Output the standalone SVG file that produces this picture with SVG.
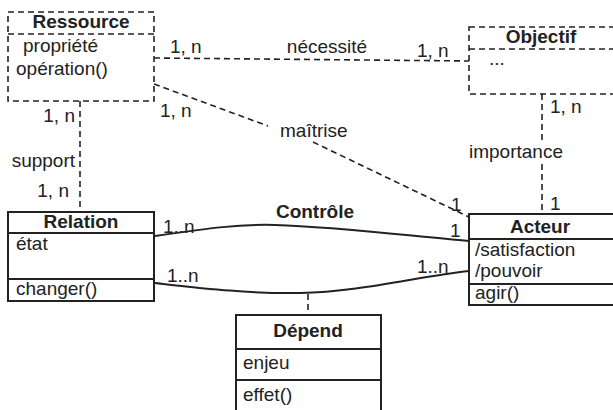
<svg xmlns="http://www.w3.org/2000/svg" width="613" height="410" viewBox="0 0 613 410">
<style>
  text { font-family: "Liberation Sans", Arial, sans-serif; font-size: 19px; fill: #222; }
  .b { font-weight: bold; text-anchor: middle; }
  .box { fill: #fff; stroke: #222; stroke-width: 2; }
  .dbox { fill: #fff; stroke: #222; stroke-width: 1.6; stroke-dasharray: 6 4; }
  .sep { stroke: #222; stroke-width: 2; }
  .dsep { stroke: #222; stroke-width: 1.6; stroke-dasharray: 6 4; }
  .dash { fill: none; stroke: #222; stroke-width: 1.6; stroke-dasharray: 6 4; }
  .solid { fill: none; stroke: #222; stroke-width: 2; }
</style>
<rect width="613" height="410" fill="#fff"/>
<g id="connectors">
  <path class="dash" d="M154,58 L470,61"/>
  <path class="dash" d="M154,84 L268,126"/>
  <path class="dash" d="M313,142 L469,217"/>
  <path class="dash" d="M80,101 L80,212"/>
  <path class="dash" d="M542,94 L542,144"/>
  <path class="dash" d="M542,164 L542,214"/>
  <path class="solid" d="M155,236 C210,228 240,224 275,225 C340,227 410,236 469,241"/>
  <path class="solid" d="M155,283 C200,288 250,294 300,293 C360,292 420,276 469,271"/>
  <path class="dash" d="M308,294 L308,315"/>
  <text x="170" y="53">1, n</text>
  <text x="327" y="53" text-anchor="middle">nécessité</text>
  <text x="417" y="57">1, n</text>
  <text x="160" y="117">1, n</text>
  <text x="280" y="137">maîtrise</text>
  <text x="451" y="211">1</text>
  <text x="75" y="122" text-anchor="end">1, n</text>
  <text x="75" y="167" text-anchor="end">support</text>
  <text x="69" y="197" text-anchor="end">1, n</text>
  <text x="550" y="113">1, n</text>
  <text x="516" y="158" text-anchor="middle">importance</text>
  <text x="550" y="210">1</text>
  <text class="b" x="315" y="218">Contrôle</text>
  <text x="163" y="233">1..n</text>
  <text x="450" y="237">1</text>
  <text x="167" y="282">1..n</text>
  <text x="417" y="273">1..n</text>
</g>
<g id="ressource">
  <rect class="dbox" x="8" y="12" width="146" height="89"/>
  <line class="dsep" x1="8" y1="34" x2="154" y2="34"/>
  <text class="b" x="81" y="28">Ressource</text>
  <text x="23" y="52">propriété</text>
  <text x="16" y="75">opération()</text>
</g>
<g id="objectif">
  <rect class="dbox" x="469" y="27" width="160" height="67"/>
  <line class="dsep" x1="469" y1="49" x2="629" y2="49"/>
  <text class="b" x="541" y="43">Objectif</text>
  <text x="489" y="65">...</text>
</g>
<g id="relation">
  <rect class="box" x="8" y="212" width="146" height="89"/>
  <line class="sep" x1="8" y1="233" x2="154" y2="233"/>
  <line class="sep" x1="8" y1="279" x2="154" y2="279"/>
  <text class="b" x="81" y="228">Relation</text>
  <text x="16" y="250">état</text>
  <text x="16" y="295">changer()</text>
</g>
<g id="acteur">
  <rect class="box" x="469" y="214" width="160" height="91"/>
  <line class="sep" x1="469" y1="239" x2="629" y2="239"/>
  <line class="sep" x1="469" y1="284" x2="629" y2="284"/>
  <text class="b" x="540" y="233">Acteur</text>
  <text x="475" y="256">/satisfaction</text>
  <text x="475" y="277">/pouvoir</text>
  <text x="475" y="299">agir()</text>
</g>
<g id="depend">
  <rect class="box" x="236" y="315" width="145" height="110"/>
  <line class="sep" x1="236" y1="349" x2="381" y2="349"/>
  <line class="sep" x1="236" y1="380" x2="381" y2="380"/>
  <text class="b" x="308" y="337">Dépend</text>
  <text x="243" y="369">enjeu</text>
  <text x="243" y="401">effet()</text>
</g>
</svg>
